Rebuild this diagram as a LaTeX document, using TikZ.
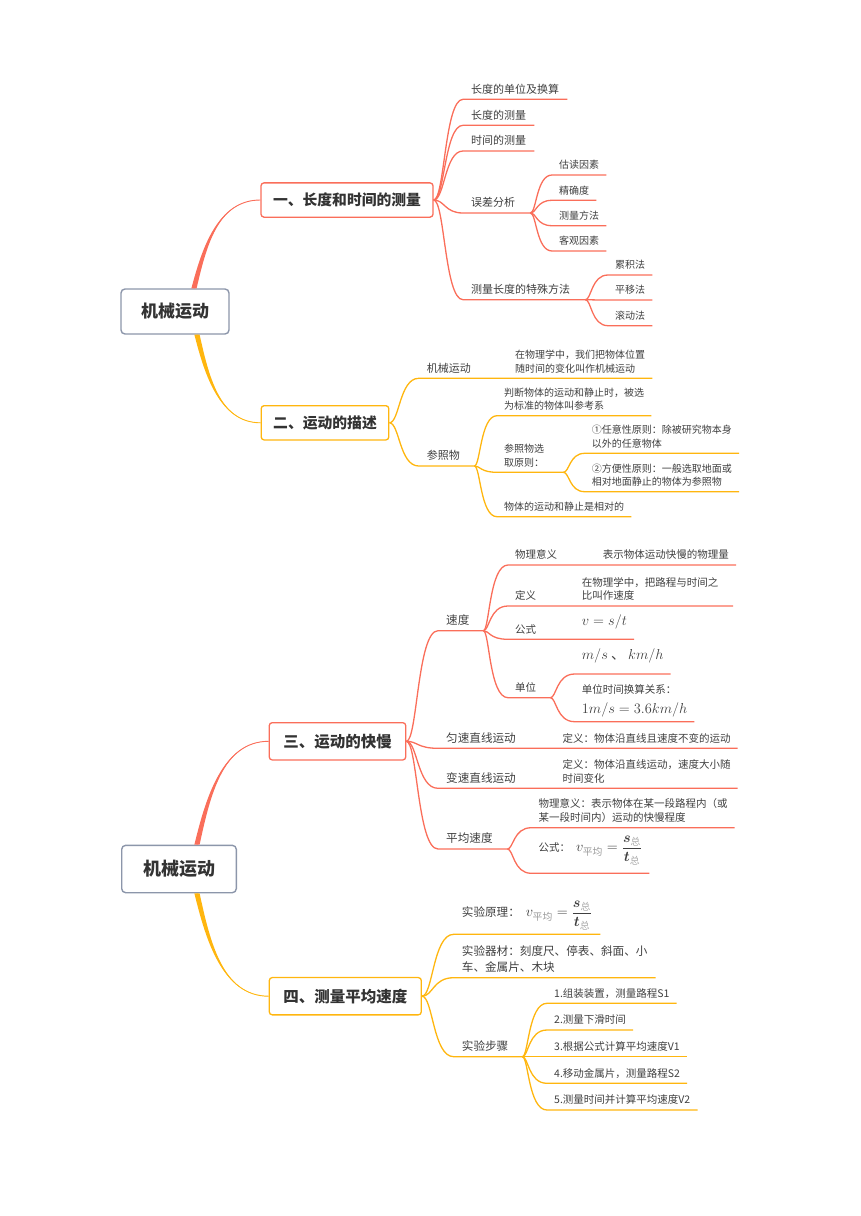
\documentclass[tikz,border=0pt]{standalone}
\usepackage{fontspec}
\usepackage{amsmath}
\usepackage{bm}
\setmainfont{Noto Sans CJK SC}
\usetikzlibrary{calc}

\definecolor{coral}{HTML}{FA6E5A}
\definecolor{amber}{HTML}{FFB60F}
\definecolor{slate}{HTML}{8C96AA}
\definecolor{ink}{HTML}{3F3F3F}
\definecolor{inkdark}{HTML}{333333}

% thick tapering branch from the centre box to a topic
\newcommand{\limb}[3]{%
  \fill[#1] let \p1=(#2), \p2=(#3) in
    ({\x1-2.6pt},\y1) .. controls ({0.85*\x1+0.15*\x2-2pt},{0.55*\y1+0.45*\y2}) and ({0.65*\x1+0.35*\x2},\y2) .. (\p2)
    .. controls ({0.65*\x1+0.35*\x2},\y2) and ({0.85*\x1+0.15*\x2+2pt},{0.55*\y1+0.45*\y2}) .. ({\x1+2.6pt},\y1) -- cycle;
  \draw[#1, line width=0.9pt] let \p1=(#2), \p2=(#3) in
    (\p1) .. controls ({0.85*\x1+0.15*\x2},{0.55*\y1+0.45*\y2}) and ({0.65*\x1+0.35*\x2},\y2) .. (\p2);}

% average speed formula
\newcommand{\vavg}{{\fontsize{14}{16}\selectfont$v_{\text{\color{gray!80}平均}}=\dfrac{\bm{s}_{\text{\color{gray!70}总}}}{\bm{t}_{\text{\color{gray!70}总}}}$}}

\tikzset{
  core/.style={draw=slate, fill=white, line width=1.4pt, rounded corners=4pt, text=inkdark,
    font=\bfseries\fontsize{17}{20}\selectfont, minimum width=108pt, minimum height=45pt},
  topic/.style={draw=#1, fill=white, line width=1.3pt, rounded corners=3pt, text=inkdark,
    font=\bfseries\fontsize{14.8}{17}\selectfont, inner xsep=12pt, minimum height=34.3pt},
  topicL/.style={topic=#1, font=\bfseries\fontsize{15.5}{18}\selectfont, inner xsep=14pt, minimum height=37.3pt},
  leaf/.style={anchor=south west, inner xsep=7pt, inner ysep=4pt, text depth=2pt, text=ink, align=left},
  sub/.style={leaf, inner xsep=8pt, font=\fontsize{11}{13.4}\selectfont},
  note/.style={leaf, font=\fontsize{10}{13.4}\selectfont},
  subL/.style={leaf, inner xsep=8pt, font=\fontsize{11.6}{16.3}\selectfont},
  noteL/.style={leaf, font=\fontsize{10.5}{13.6}\selectfont},
  eqn/.style={noteL, font=\fontsize{14}{16}\selectfont},
  twig/.style={draw=#1, line width=1.3pt},
  elbow/.style={to path={.. controls ($(\tikztostart)+(#1,0)$) and ($(\tikztostart|-\tikztotarget)+(#1,0)$) .. (\tikztotarget)}}
}

\begin{document}
\begin{tikzpicture}[x=1pt, y=-1pt]
  \useasboundingbox (0,0) rectangle (860,1216);

  % upper map
  \node[core] (r1) at (175,311.5) {机械运动};
  \node[topic=coral] (b1) at (347,200) {一、长度和时间的测量};
  \node[topic=amber] (b2) at (325,422.8) {二、运动的描述};
  \limb{coral}{$(r1.north)+(19,0)$}{b1.west}
  \limb{amber}{$(r1.south)+(22,0)$}{b2.west}

  \node[sub] (a1) at (463,99.3) {长度的单位及换算};
  \node[sub] (a2) at (463,125.3) {长度的测量};
  \node[sub] (a3) at (463,151) {时间的测量};
  \node[sub, text width=51pt] (a4) at (463,213) {误差分析};
  \node[note] (a41) at (552,175) {估读因素};
  \node[note] (a42) at (552,200.3) {精确度};
  \node[note] (a43) at (552,225.7) {测量方法};
  \node[note] (a44) at (552,251) {客观因素};
  \node[sub, text width=106pt] (a5) at (463,299.7) {测量长度的特殊方法};
  \node[note] (a51) at (608,275) {累积法};
  \node[note] (a52) at (608,300) {平移法};
  \node[note] (a53) at (608,325.7) {滚动法};

  \foreach \n in {a1,a2,a3,a4,a5}
    \draw[twig=coral] (b1.east) to[elbow=11] (\n.south west) -- (\n.south east);
  \foreach \n in {a41,a42,a43,a44}
    \draw[twig=coral] (a4.south east) to[elbow=6] (\n.south west) -- (\n.south east);
  \foreach \n in {a51,a52,a53}
    \draw[twig=coral] (a5.south east) to[elbow=6] (\n.south west) -- (\n.south east);

  \node[sub] (c1) at (418.7,378.3) {机械运动};
  \node[note] (d1) at (508,378.3) {在物理学中，我们把物体位置\\随时间的变化叫作机械运动};
  \node[sub, text width=39.3pt] (c2) at (418.7,466) {参照物};
  \node[note] (c21) at (497,415.7) {判断物体的运动和静止时，被选\\为标准的物体叫参考系};
  \node[note, text width=52pt, text depth=15.4pt] (c22) at (497,472.3) {参照物选\\取原则：};
  \node[note] (c221) at (584.7,453.3) {①任意性原则：除被研究物本身\\以外的任意物体};
  \node[note] (c222) at (584.7,491.7) {②方便性原则：一般选取地面或\\相对地面静止的物体为参照物};
  \node[note] (c23) at (497,516.7) {物体的运动和静止是相对的};

  \draw[twig=amber] (b2.east) to[elbow=10] (c1.south west) -- (d1.south east);
  \draw[twig=amber] (b2.east) to[elbow=10] (c2.south west) -- (c2.south east);
  \foreach \n in {c21,c22,c23}
    \draw[twig=amber] (c2.south east) to[elbow=6] (\n.south west) -- (\n.south east);
  \foreach \n in {c221,c222}
    \draw[twig=amber] (c22.south east) to[elbow=6] (\n.south west) -- (\n.south east);

  % lower map
  \node[core, font=\bfseries\fontsize{18}{21}\selectfont, minimum width=114.6pt, minimum height=47.4pt] (r2) at (179,869) {机械运动};
  \node[topicL=coral] (b3) at (337.5,741.3) {三、运动的快慢};
  \node[topicL=amber] (b4) at (345.3,996.2) {四、测量平均速度};
  \limb{coral}{$(r2.north)+(18,0)$}{b3.west}
  \limb{amber}{$(r2.south)+(18,0)$}{b4.west}

  \node[subL, text width=29pt] (e1) at (438,630.7) {速度};
  \node[noteL] (e11) at (508,565) {物理意义};
  \node[noteL] (f11) at (595.7,565) {表示物体运动快慢的物理量};
  \node[noteL] (e12) at (508,606) {定义};
  \node[noteL, text width=144pt, text depth=15.6pt] (f12) at (574.7,606) {在物理学中，把路程与时间之\\比叫作速度};
  \node[noteL] (e13) at (508,639.3) {公式};
  \node[eqn, text depth=9.3pt] (f13) at (574.7,639.3) {$v=s/t$};
  \node[noteL, text width=28pt] (e14) at (508,697.7) {单位};
  \node[eqn, text depth=10.5pt] (f141) at (574.7,674) {$m/s$ 、 $km/h$};
  \node[noteL, font=\fontsize{10.5}{19.5}\selectfont, text depth=4.2pt] (f142) at (574.7,721.7)
    {单位时间换算关系：\\{\fontsize{14}{19.5}\selectfont$1m/s=3.6km/h$}};
  \node[subL] (e2) at (438,748.3) {匀速直线运动};
  \node[noteL] (f2) at (555.3,748.3) {定义：物体沿直线且速度不变的运动};
  \node[subL] (e3) at (438,788.3) {变速直线运动};
  \node[noteL] (f3) at (555.3,788.3) {定义：物体沿直线运动，速度大小随\\时间变化};
  \node[subL, text width=53pt] (e4) at (438,849) {平均速度};
  \node[noteL] (f41) at (531.3,827.7) {物理意义：表示物体在某一段路程内（或\\某一段时间内）运动的快慢程度};
  \node[noteL, text depth=17.3pt] (f42) at (531.3,873.3) {公式：\hspace{6pt}\vavg};

  \foreach \n in {e1,e4}
    \draw[twig=coral] (b3.east) to[elbow=11] (\n.south west) -- (\n.south east);
  \draw[twig=coral] (b3.east) to[elbow=11] (e2.south west) -- (f2.south east);
  \draw[twig=coral] (b3.east) to[elbow=11] (e3.south west) -- (f3.south east);
  \draw[twig=coral] (e1.south east) to[elbow=6] (e11.south west) -- (f11.south east);
  \draw[twig=coral] (e1.south east) to[elbow=6] (e12.south west) -- (f12.south east);
  \draw[twig=coral] (e1.south east) to[elbow=6] (e13.south west) -- (f13.south east);
  \draw[twig=coral] (e1.south east) to[elbow=6] (e14.south west) -- (e14.south east);
  \foreach \n in {f141,f142}
    \draw[twig=coral] (e14.south east) to[elbow=6] (\n.south west) -- (\n.south east);
  \foreach \n in {f41,f42}
    \draw[twig=coral] (e4.south east) to[elbow=6] (\n.south west) -- (\n.south east);

  \node[subL, text depth=13.3pt] (g1) at (453.7,934.3) {实验原理：\hspace{6pt}\vavg};
  \node[subL] (g2) at (453.7,977.7) {实验器材：刻度尺、停表、斜面、小\\车、金属片、木块};
  \node[subL, text width=52.3pt] (g3) at (453.7,1056.7) {实验步骤};
  \node[noteL] (h1) at (547,1003.3) {1.组装装置，测量路程S1};
  \node[noteL] (h2) at (547,1030) {2.测量下滑时间};
  \node[noteL] (h3) at (547,1056.7) {3.根据公式计算平均速度V1};
  \node[noteL] (h4) at (547,1083.3) {4.移动金属片，测量路程S2};
  \node[noteL] (h5) at (547,1110) {5.测量时间并计算平均速度V2};

  \foreach \n in {g1,g2,g3}
    \draw[twig=amber] (b4.east) to[elbow=11] (\n.south west) -- (\n.south east);
  \foreach \n in {h1,h2,h3,h4,h5}
    \draw[twig=amber] (g3.south east) to[elbow=6] (\n.south west) -- (\n.south east);
\end{tikzpicture}
\end{document}
